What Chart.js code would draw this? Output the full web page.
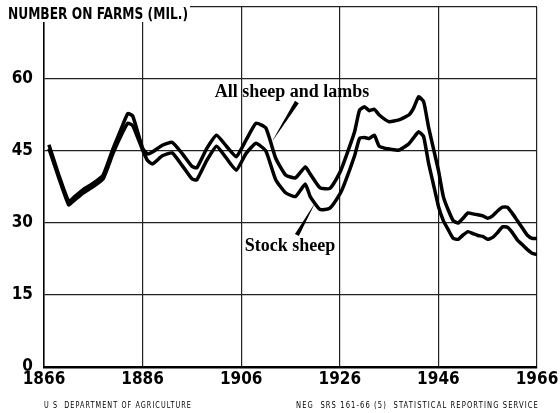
<!DOCTYPE html>
<html>
<head>
<meta charset="utf-8">
<script src="https://cdn.jsdelivr.net/npm/chart.js@4"></script>
<style>
  html, body { margin: 0; padding: 0; background: #fff; }
  #wrap { width: 560px; height: 413px; }
</style>
</head>
<body>
<div id="wrap"><canvas id="sheepChart" width="560" height="413"></canvas></div>
<script>
// sheep and lambs on farms, Jan 1, millions
const years = [1867,1869,1871,1872,1874,1876,1878,1880,1882,1883,1884,1886,1887,1888,1890,1892,1894,1896,1897,1899,
  1901,1903,1905,1907,1909,1911,1913,1915,1917,1919,1920,1922,1924,1926,1927,1929,1930,1931,1932,1933,1934,1936,1938,
  1940,1941,1942,1943,1944,1945,1946,1947,1948,1949,1950,1951,1952,1953,1954,1955,1956,1957,1958,1959,1960,1961,1962,
  1963,1964,1965,1966];
const allSheep = [46.3,40.0,34.5,35.3,37.0,38.3,40.0,45.5,50.5,52.8,52.3,45.6,44.4,44.8,46.2,46.8,44.5,41.8,41.5,45.5,
  48.3,46.0,43.8,47.3,50.8,49.8,43.5,40.0,39.4,41.7,40.2,37.3,37.2,40.5,43.1,49.0,53.5,54.2,53.4,53.7,52.5,51.1,51.5,
  52.5,54.0,56.3,55.3,50.0,45.5,41.0,35.5,32.7,30.5,30.0,31.0,32.1,31.9,31.7,31.5,31.0,31.5,32.5,33.3,33.3,32.0,30.5,
  29.0,27.5,26.8,26.8];
const stockSheep = [45.5,39.4,33.8,34.6,36.3,37.6,39.2,44.5,49.0,50.8,50.3,45.2,43.0,42.3,44.0,44.6,42.0,39.2,39.0,43.0,
  46.0,43.5,41.0,44.5,46.6,45.0,39.0,36.3,35.5,38.1,35.5,32.8,33.1,36.0,38.3,44.0,47.6,47.8,47.6,48.3,46.0,45.4,45.2,
  46.5,47.8,49.0,48.0,42.5,38.0,33.5,30.5,28.6,26.8,26.6,27.5,28.2,27.8,27.4,27.2,26.6,27.0,28.0,29.2,29.1,28.0,26.5,
  25.5,24.5,23.7,23.4];
const yearTicks = [1866, 1886, 1906, 1926, 1946, 1966];
const valueTicks = [0, 15, 30, 45, 60];

const tickFont = { family: 'DejaVu Sans Condensed', weight: 'bold', size: 17 };

function toPoints(vals) {
    return years.map((y, i) => ({ x: y, y: vals[i] }));
}

// labels, leader strokes, title and footer
const notes = {
    id: 'notes',
    afterDraw(chart) {
        const ctx = chart.ctx;
        const xs = chart.scales.x, ys = chart.scales.y;
        const px = (yr, v) => [xs.getPixelForValue(yr), ys.getPixelForValue(v)];

        function leader(a, b, wide) {
            // tapered stroke, wide at a
            const dx = b[0] - a[0], dy = b[1] - a[1];
            const len = Math.hypot(dx, dy);
            const nx = -dy / len * wide / 2, ny = dx / len * wide / 2;
            ctx.beginPath();
            ctx.moveTo(a[0] + nx, a[1] + ny);
            ctx.lineTo(a[0] - nx, a[1] - ny);
            ctx.lineTo(b[0], b[1]);
            ctx.closePath();
            ctx.fill();
        }

        ctx.save();
        ctx.fillStyle = '#000';
        ctx.font = 'bold 18px "Liberation Serif"';
        ctx.textAlign = 'center';
        ctx.textBaseline = 'middle';
        let p = px(1916.3, 57.3);
        ctx.fillText('All sheep and lambs', p[0], p[1]);
        p = px(1915.9, 25.2);
        ctx.fillText('Stock sheep', p[0], p[1]);
        leader(px(1917.3, 55.2), px(1912.2, 46.9), 4.5);
        leader(px(1917.3, 27.5), px(1921, 34.2), 4.5);

        // title over the top-left corner of the grid
        ctx.fillStyle = '#fff';
        ctx.fillRect(0, 0, 190, 22);
        ctx.fillStyle = '#000';
        ctx.textAlign = 'left';
        ctx.textBaseline = 'alphabetic';
        ctx.font = 'bold 16px "DejaVu Sans Condensed"';
        ctx.fillText('NUMBER ON FARMS (MIL.)', 8, 19, 180);

        // footer
        ctx.font = '8px "DejaVu Sans"';
        ctx.letterSpacing = '1.3px';
        ctx.fillText('U S  DEPARTMENT OF AGRICULTURE', 44, 408, 148);
        ctx.fillText('NEG  SRS 161-66 (5)  STATISTICAL REPORTING SERVICE', 296, 408, 243);
        ctx.restore();
    }
};

new Chart(document.getElementById('sheepChart').getContext('2d'), {
    type: 'line',
    data: {
        datasets: [{
            label: 'All sheep and lambs',
            data: toPoints(allSheep),
            borderColor: '#000',
            borderWidth: 3.5,
            pointRadius: 0,
            tension: 0.15
        }, {
            label: 'Stock sheep',
            data: toPoints(stockSheep),
            borderColor: '#000',
            borderWidth: 3.5,
            pointRadius: 0,
            tension: 0.15
        }]
    },
    options: {
        responsive: false,
        animation: false,
        layout: { padding: { left: 0, right: 23, top: 7, bottom: 0 } },
        plugins: { legend: { display: false }, tooltip: { enabled: false } },
        scales: {
            x: {
                type: 'linear',
                min: 1866,
                max: 1966,
                afterBuildTicks: (s) => { s.ticks = yearTicks.map(v => ({ value: v })); },
                afterFit: (s) => { s.height = 413 - 367; s.paddingLeft = 0; s.paddingRight = 0; },
                ticks: {
                    callback: (v) => String(v),
                    color: '#000',
                    font: tickFont,
                    padding: 2,
                    maxRotation: 0
                },
                grid: { color: '#222', lineWidth: 1.2, drawTicks: false },
                border: { color: '#000', width: 2.5 }
            },
            y: {
                min: 0,
                max: 75,
                afterBuildTicks: (s) => { s.ticks = valueTicks.concat([75]).map(v => ({ value: v })); },
                afterFit: (s) => { s.width = 44; s.paddingTop = 0; s.paddingBottom = 0; },
                ticks: {
                    callback: (v) => valueTicks.includes(v) ? String(v) : '',
                    color: '#000',
                    font: tickFont,
                    padding: 11
                },
                grid: { color: '#222', lineWidth: 1.2, drawTicks: false },
                border: { color: '#000', width: 1.5 }
            }
        }
    },
    plugins: [notes]
});
</script>
</body>
</html>
